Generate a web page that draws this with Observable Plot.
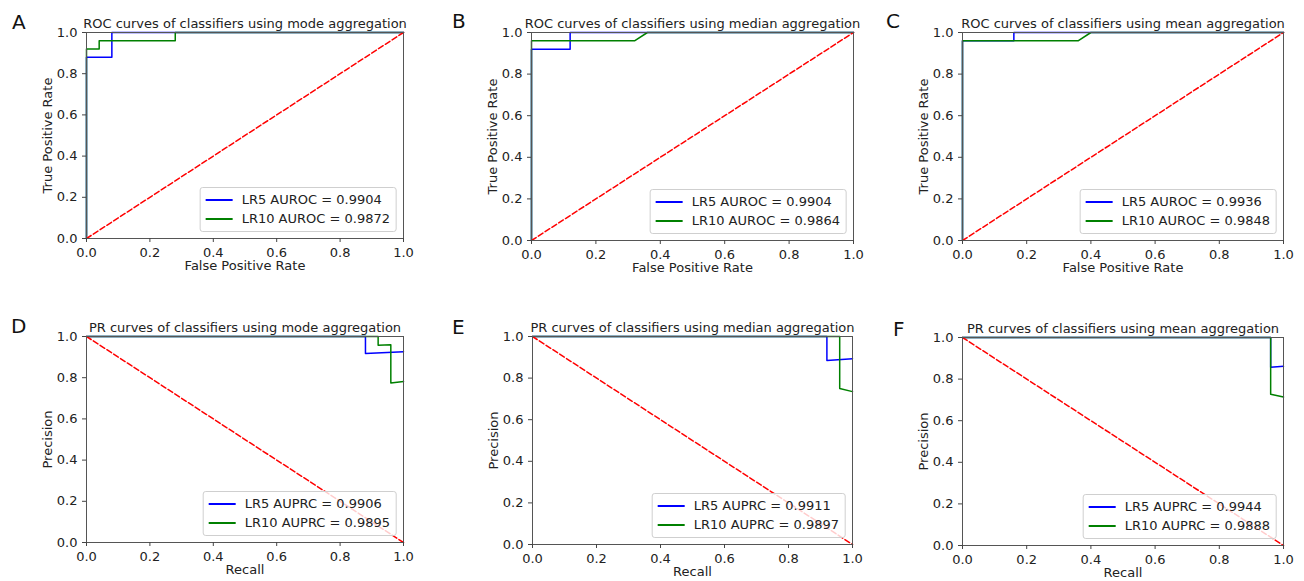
<!DOCTYPE html>
<html>
<head>
<meta charset="utf-8">
<script src="https://cdn.jsdelivr.net/npm/d3@7"></script>
<script src="https://cdn.jsdelivr.net/npm/@observablehq/plot@0.6"></script>
<style>
  body { margin: 0; background: #fff; font-family: "DejaVu Sans", sans-serif; }
  #root { position: relative; width: 1304px; height: 581px; overflow: hidden; background: #fff; }
  .panel { position: absolute; }
  .letter { position: absolute; font-size: 20px; line-height: 1; color: #111; }
  .legend { position: absolute; transform: translate(-100%, -100%); border: 1px solid #cfcfcf; border-radius: 3px;
            background: rgba(255,255,255,0.8); font-size: 13px; color: #222; padding: 2px 6px 3px 5px; white-space: nowrap; }
  .legend .row { display: flex; align-items: center; height: 19px; }
  .legend .sw { display: inline-block; width: 27px; height: 2px; margin-right: 9px; }
</style>
</head>
<body>
<div id="root"></div>
<script>
// ---------- data ----------
const letters = ["A", "B", "C", "D", "E", "F"];
const titles = [
  "ROC curves of classifiers using mode aggregation",
  "ROC curves of classifiers using median aggregation",
  "ROC curves of classifiers using mean aggregation",
  "PR curves of classifiers using mode aggregation",
  "PR curves of classifiers using median aggregation",
  "PR curves of classifiers using mean aggregation"
];
const xLabels = ["False Positive Rate", "False Positive Rate", "False Positive Rate", "Recall", "Recall", "Recall"];
const yLabels = ["True Positive Rate", "True Positive Rate", "True Positive Rate", "Precision", "Precision", "Precision"];
const tickValues = [0, 0.2, 0.4, 0.6, 0.8, 1.0];
const seriesNames = ["LR5", "LR10"];
const seriesColors = ["#0000ff", "#008000"];
const legendA = ["LR5 AUROC = 0.9904", "LR10 AUROC = 0.9872"];
const legendB = ["LR5 AUROC = 0.9904", "LR10 AUROC = 0.9864"];
const legendC = ["LR5 AUROC = 0.9936", "LR10 AUROC = 0.9848"];
const legendD = ["LR5 AUPRC = 0.9906", "LR10 AUPRC = 0.9895"];
const legendE = ["LR5 AUPRC = 0.9911", "LR10 AUPRC = 0.9897"];
const legendF = ["LR5 AUPRC = 0.9944", "LR10 AUPRC = 0.9888"];

// ROC curves (x = FPR, y = TPR)
const aLR5x = [0, 0, 0.08, 0.08, 1],               aLR5y = [0, 0.88, 0.88, 1, 1];
const aLR10x = [0, 0, 0.04, 0.04, 0.28, 0.28, 1],  aLR10y = [0, 0.92, 0.92, 0.96, 0.96, 1, 1];
const bLR5x = [0, 0, 0.12, 0.12, 1],               bLR5y = [0, 0.92, 0.92, 1, 1];
const bLR10x = [0, 0, 0.32, 0.36, 1],              bLR10y = [0, 0.96, 0.96, 1, 1];
const cLR5x = [0, 0, 0.16, 0.16, 1],               cLR5y = [0, 0.96, 0.96, 1, 1];
const cLR10x = [0, 0, 0.36, 0.40, 1],              cLR10y = [0, 0.96, 0.96, 1, 1];
// PR curves (x = recall, y = precision)
const dLR5x = [0, 0.88, 0.88, 1],                  dLR5y = [1, 1, 0.917, 0.926];
const dLR10x = [0, 0.92, 0.92, 0.96, 0.96, 1],     dLR10y = [1, 1, 0.958, 0.96, 0.774, 0.781];
const eLR5x = [0, 0.92, 0.92, 1],                  eLR5y = [1, 1, 0.885, 0.893];
const eLR10x = [0, 0.96, 0.96, 1],                 eLR10y = [1, 1, 0.75, 0.735];
const fLR5x = [0, 0.96, 0.96, 1],                  fLR5y = [1, 1, 0.857, 0.862];
const fLR10x = [0, 0.96, 0.96, 1],                 fLR10y = [1, 1, 0.727, 0.714];
// chance lines
const rocChanceX = [0, 1], rocChanceY = [0, 1];
const prChanceX = [0, 1],  prChanceY = [1, 0];

// ---------- assembly ----------
const zip = (xs, ys, s) => xs.map((x, i) => ({x, y: ys[i], s}));
const curves = [
  [aLR5x, aLR5y, aLR10x, aLR10y, rocChanceX, rocChanceY, legendA],
  [bLR5x, bLR5y, bLR10x, bLR10y, rocChanceX, rocChanceY, legendB],
  [cLR5x, cLR5y, cLR10x, cLR10y, rocChanceX, rocChanceY, legendC],
  [dLR5x, dLR5y, dLR10x, dLR10y, prChanceX, prChanceY, legendD],
  [eLR5x, eLR5y, eLR10x, eLR10y, prChanceX, prChanceY, legendE],
  [fLR5x, fLR5y, fLR10x, fLR10y, prChanceX, prChanceY, legendF]
];

// layout (plot-area boxes in page pixels)
const boxes = [
  {left: 86,  top: 32,  w: 317, h: 206, lx: 12,  ly: 12},
  {left: 531, top: 32,  w: 322, h: 208, lx: 452, ly: 11},
  {left: 962, top: 32,  w: 321, h: 208, lx: 886, ly: 11},
  {left: 86,  top: 336, w: 317, h: 206, lx: 11,  ly: 316},
  {left: 532, top: 336, w: 320, h: 208, lx: 452, ly: 317},
  {left: 962, top: 337, w: 321, h: 208, lx: 893, ly: 319}
];
const ML = 86, MT = 32, MR = 12, MB = 44;
const root = document.getElementById("root");

boxes.forEach((b, i) => {
  const [x5, y5, x10, y10, cx, cy, leg] = curves[i];
  const chart = Plot.plot({
    width: ML + b.w + MR,
    height: MT + b.h + MB,
    marginLeft: ML, marginTop: MT, marginRight: MR, marginBottom: MB,
    x: {domain: [0, 1]},
    y: {domain: [0, 1]},
    style: {fontSize: "13px", fontFamily: "DejaVu Sans, sans-serif", color: "#222", background: "none", overflow: "visible"},
    marks: [
      Plot.line(zip(x5, y5, seriesNames[0]), {x: "x", y: "y", stroke: seriesColors[0], strokeWidth: 1.5}),
      Plot.line(zip(x10, y10, seriesNames[1]), {x: "x", y: "y", stroke: seriesColors[1], strokeWidth: 1.5}),
      Plot.line(zip(cx, cy, "chance"), {x: "x", y: "y", stroke: "red", strokeWidth: 1.5, strokeDasharray: "5.5,2.6"}),
      Plot.frame({stroke: "#555", strokeWidth: 1}),
      Plot.axisX({ticks: tickValues, tickFormat: d3.format(".1f"), tickSize: 4, stroke: "#444",
                  label: xLabels[i], labelAnchor: "center", labelOffset: 31, labelArrow: false}),
      Plot.axisY({ticks: tickValues, tickFormat: d3.format(".1f"), tickSize: 4, stroke: "#444",
                  label: yLabels[i], labelAnchor: "center", labelOffset: 44, labelArrow: false}),
      Plot.text([titles[i]], {frameAnchor: "top", lineAnchor: "bottom", dy: -5, fontSize: 13, fill: "#222"})
    ]
  });
  chart.classList.add("panel");
  chart.style.left = (b.left - ML) + "px";
  chart.style.top = (b.top - MT) + "px";
  root.appendChild(chart);

  const letter = document.createElement("div");
  letter.className = "letter";
  letter.textContent = letters[i];
  letter.style.left = b.lx + "px";
  letter.style.top = b.ly + "px";
  root.appendChild(letter);

  const lg = document.createElement("div");
  lg.className = "legend";
  lg.style.left = (b.left + b.w - 6) + "px";
  lg.style.top = (b.top + b.h - 6) + "px";
  leg.forEach((t, k) => {
    const row = document.createElement("div");
    row.className = "row";
    const sw = document.createElement("span");
    sw.className = "sw";
    sw.style.background = seriesColors[k];
    const tx = document.createElement("span");
    tx.textContent = t;
    row.appendChild(sw);
    row.appendChild(tx);
    lg.appendChild(row);
  });
  root.appendChild(lg);
});
</script>
</body>
</html>
